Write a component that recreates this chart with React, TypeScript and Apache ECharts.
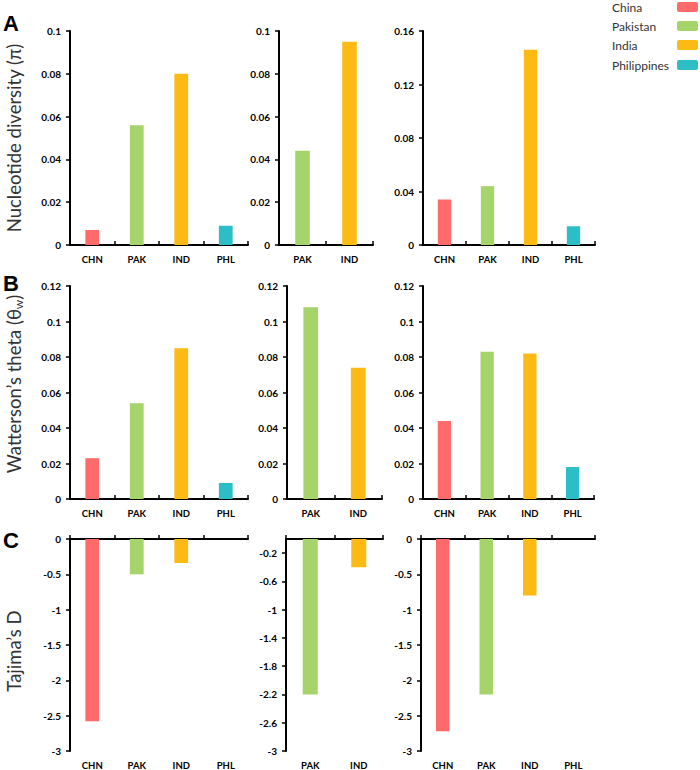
import React, { useEffect, useRef } from "react";
import * as echarts from "echarts";

// ---- data ----
const catsAll = ["CHN", "PAK", "IND", "PHL"];
const catsPair = ["PAK", "IND"];
const legendNames = ["China", "Pakistan", "India", "Philippines"];
const legendCodes = ["CHN", "PAK", "IND", "PHL"];

const piSet1 = [0.007, 0.056, 0.08, 0.009];
const piSet2 = [0.044, 0.095];
const piSet3 = [0.034, 0.044, 0.146, 0.014];

const thetaSet1 = [0.023, 0.054, 0.085, 0.009];
const thetaSet2 = [0.108, 0.074];
const thetaSet3 = [0.044, 0.083, 0.082, 0.018];

const dSet1 = [-2.58, -0.5, -0.34, null];
const dSet2 = [-2.2, -0.4];
const dSet3 = [-2.72, -2.2, -0.8, null];

const dTicksPair = [-3, -2.6, -2.2, -1.8, -1.4, -1, -0.6, -0.2];

const colorMap: Record<string, string> = {
  CHN: "#FF6B6B",
  PAK: "#A5D46B",
  IND: "#FDB914",
  PHL: "#2CBEC6",
};

const FONT = "Lato";

export default function App() {
  const ref = useRef<HTMLDivElement>(null);
  useEffect(() => {
    if (!ref.current) return;
    const chart = echarts.init(ref.current, null, { renderer: "svg" });

    const panels = [
      { cats: catsAll, data: piSet1, min: 0, max: 0.1, interval: 0.02, g: { left: 70, top: 31, width: 178, height: 214 }, neg: false },
      { cats: catsPair, data: piSet2, min: 0, max: 0.1, interval: 0.02, g: { left: 279, top: 31, width: 94, height: 214 }, neg: false },
      { cats: catsAll, data: piSet3, min: 0, max: 0.16, interval: 0.04, g: { left: 423, top: 31, width: 172, height: 214 }, neg: false },
      { cats: catsAll, data: thetaSet1, min: 0, max: 0.12, interval: 0.02, g: { left: 70, top: 286, width: 178, height: 213 }, neg: false },
      { cats: catsPair, data: thetaSet2, min: 0, max: 0.12, interval: 0.02, g: { left: 287, top: 286, width: 95, height: 213 }, neg: false },
      { cats: catsAll, data: thetaSet3, min: 0, max: 0.12, interval: 0.02, g: { left: 423, top: 286, width: 171, height: 213 }, neg: false },
      { cats: catsAll, data: dSet1, min: -3, max: 0, interval: 0.5, g: { left: 70, top: 539, width: 178, height: 214 }, neg: true },
      { cats: catsPair, data: dSet2, min: -3, max: 0, interval: 0.4, g: { left: 286, top: 539, width: 97, height: 213 }, neg: true, custom: dTicksPair },
      { cats: catsAll, data: dSet3, min: -3, max: 0, interval: 0.5, g: { left: 421, top: 539, width: 174, height: 213 }, neg: true },
    ];

    const grid: any[] = [];
    const xAxis: any[] = [];
    const yAxis: any[] = [];
    const series: any[] = [];

    const axisLine = { show: true, onZero: false, lineStyle: { color: "#000", width: 2 } };
    const xLabel = { color: "#000", fontFamily: FONT, fontWeight: "bold", fontSize: 9.5 };

    panels.forEach((p: any, i) => {
      grid.push({ ...p.g });
      const xi = xAxis.length;
      if (!p.neg) {
        xAxis.push({
          type: "category", gridIndex: i, data: p.cats, position: "bottom",
          axisLine, axisTick: { show: true, inside: true, length: 4, lineStyle: { color: "#000", width: 1.5 } },
          axisLabel: { ...xLabel, margin: 9 },
        });
      } else {
        xAxis.push({
          type: "category", gridIndex: i, data: p.cats, position: "top",
          axisLine, axisTick: { show: true, inside: false, length: 4, lineStyle: { color: "#000", width: 1.5 } },
          axisLabel: { show: false },
        });
        xAxis.push({
          type: "category", gridIndex: i, data: p.cats, position: "bottom",
          axisLine: { show: false, onZero: false }, axisTick: { show: false },
          axisLabel: { ...xLabel, margin: 9 },
        });
      }
      const yLabel: any = { color: "#000", fontFamily: FONT, fontWeight: "bold", fontSize: 10, margin: 9 };
      const yTick: any = { show: true, length: 4, lineStyle: { color: "#000", width: 1.5 } };
      if (p.custom) {
        yLabel.customValues = p.custom;
        yTick.customValues = p.custom;
      }
      yAxis.push({
        type: "value", gridIndex: i, min: p.min, max: p.max, interval: p.interval,
        axisLine: { show: true, lineStyle: { color: "#000", width: 2 } },
        axisTick: yTick, axisLabel: yLabel, splitLine: { show: false },
      });
      series.push({
        type: "bar", xAxisIndex: xi, yAxisIndex: i, barWidth: "31%",
        data: p.data.map((v: number | null, k: number) => ({ value: v, itemStyle: { color: colorMap[p.cats[k]] } })),
      });
    });

    const titleStyle = { fill: "#333", fontFamily: FONT, fontSize: 18.5 };
    const letterStyle = { fill: "#000", fontFamily: "Liberation Sans", fontWeight: "bold", fontSize: 22 };

    const graphic: any[] = [
      { type: "text", left: 3, top: 12, style: { text: "A", ...letterStyle } },
      { type: "text", left: 3, top: 272, style: { text: "B", ...letterStyle } },
      { type: "text", left: 3, top: 529, style: { text: "C", ...letterStyle } },
      { type: "text", x: 14, y: 138, rotation: Math.PI / 2, style: { text: "Nucleotide diversity (π)", ...titleStyle, align: "center", verticalAlign: "middle" } },
      {
        type: "text", x: 14, y: 384, rotation: Math.PI / 2,
        style: {
          text: "{a|Watterson’s theta (θ}{s|w}{a|)}", align: "center", verticalAlign: "middle",
          rich: {
            a: { fill: "#333", fontFamily: FONT, fontSize: 18.5 },
            s: { fill: "#333", fontFamily: FONT, fontSize: 12, verticalAlign: "bottom", padding: [9, 0, 0, 0] },
          },
        },
      },
      { type: "text", x: 14, y: 651, rotation: Math.PI / 2, style: { text: "Tajima’s D", ...titleStyle, align: "center", verticalAlign: "middle" } },
    ];
    const legendY = [7, 26, 45, 65];
    legendNames.forEach((n, k) => {
      graphic.push({ type: "text", x: 612, y: legendY[k], style: { text: n, fill: "#333", fontFamily: FONT, fontSize: 12, verticalAlign: "middle" } });
      graphic.push({ type: "rect", shape: { x: 677, y: legendY[k] - 5, width: 21, height: 10, r: 2 }, style: { fill: colorMap[legendCodes[k]] } });
    });

    chart.setOption({ animation: false, backgroundColor: "#fff", grid, xAxis, yAxis, series, graphic });
    return () => chart.dispose();
  }, []);
  return <div ref={ref} style={{ position: "fixed", left: 0, top: 0, width: 700, height: 770 }} />;
}
